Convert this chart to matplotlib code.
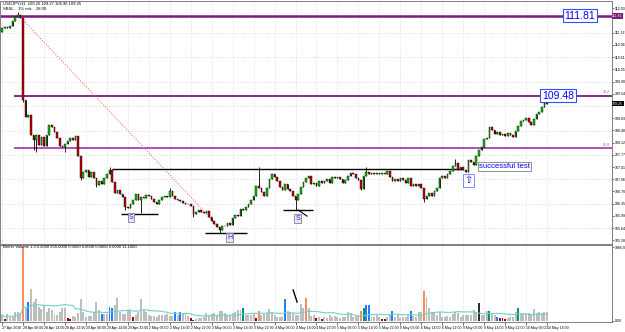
import numpy as np
import pandas as pd
import matplotlib
matplotlib.use('Agg')
import matplotlib.pyplot as plt

plt.rcParams['font.family'] = ['Liberation Sans', 'DejaVu Sans']

# USDJPY H1 closes (open = previous close)
first_open = 111.34
closes = [
    111.46, 111.48, 111.46, 111.51, 111.66, 111.78, 111.83, 111.75, 109.36, 108.87,
    108.92, 108.34, 108.20, 108.34, 108.05, 108.28, 108.02, 108.34, 108.63, 108.57,
    108.43, 108.25, 108.02, 107.99, 108.08, 108.17, 108.25, 108.20, 108.31, 107.73,
    107.09, 107.26, 107.32, 107.12, 107.26, 107.09, 106.89, 107.00, 106.91, 107.09,
    107.21, 107.32, 106.97, 106.65, 106.74, 106.62, 106.54, 106.25, 106.22, 106.33,
    106.45, 106.62, 106.45, 106.54, 106.51, 106.60, 106.57, 106.48, 106.39, 106.33,
    106.45, 106.54, 106.57, 106.54, 106.71, 106.57, 106.48, 106.45, 106.42, 106.36,
    106.33, 106.33, 106.28, 106.04, 106.10, 106.16, 106.10, 106.07, 106.13, 105.96,
    105.84, 105.75, 105.66, 105.58, 105.69, 105.69, 105.78, 105.72, 105.93, 106.01,
    105.98, 106.19, 106.16, 106.25, 106.33, 106.45, 106.57, 106.86, 106.80, 106.68,
    106.57, 106.80, 107.06, 107.21, 107.12, 107.00, 106.83, 106.74, 106.91, 106.77,
    106.71, 106.57, 106.45, 106.62, 106.83, 106.97, 107.09, 107.15, 106.91, 106.94,
    106.86, 107.00, 106.94, 107.00, 107.06, 106.94, 107.12, 107.09, 107.12, 107.06,
    106.94, 107.03, 107.15, 107.23, 107.21, 107.09, 107.03, 106.77, 107.15, 107.26,
    107.21, 107.23, 107.21, 107.23, 107.21, 107.23, 107.21, 107.29, 107.12, 107.00,
    107.06, 107.00, 107.09, 107.03, 106.94, 107.09, 106.86, 106.91, 106.86, 106.91,
    106.80, 106.48, 106.57, 106.65, 106.57, 106.71, 106.80, 107.09, 107.15, 107.09,
    107.21, 107.29, 107.44, 107.53, 107.32, 107.41, 107.32, 107.26, 107.61, 107.56,
    107.47, 107.73, 107.91, 107.99, 108.22, 108.25, 108.57, 108.49, 108.37, 108.43,
    108.34, 108.37, 108.31, 108.40, 108.34, 108.28, 108.46, 108.60, 108.75, 108.78,
    108.84, 108.72, 108.63, 108.81, 108.95, 109.01, 109.16, 109.27, 109.24,
]
wick_high = {6: 111.92, 41: 107.41, 64: 106.80, 98: 107.41, 139: 107.41, 173: 107.64}
wick_low = {8: 109.30, 12: 107.91, 13: 107.85, 24: 107.85, 30: 107.03, 36: 106.83,
            47: 106.16, 53: 106.07, 73: 105.96, 83: 105.49, 112: 106.16, 137: 106.74,
            161: 106.39}

volumes = [
    150, 50, 175, 90, 110, 235, 235, 210, 1840, 315, 475, 790, 485, 540, 360, 290, 400, 235, 335, 275,
    175, 150, 235, 335, 315, 65, 50, 135, 90, 210, 560, 235, 110, 125, 125, 235, 485, 275, 175, 175, 175, 360, 315,
    400, 565, 235, 175, 175, 275, 275, 90, 150, 235, 560, 275, 235, 150, 125, 125,
    110, 150, 150, 150, 175, 125, 125, 225, 150, 235, 175, 175, 125, 65, 25, 40, 65, 65, 110, 190, 125,
    175, 190, 150, 250, 250, 210, 150, 150, 190, 235, 275, 275, 315, 150, 150, 150,
    175, 85, 250, 150, 175, 210, 290, 235, 150, 110, 110, 110, 540, 250, 235, 190, 150, 150, 425, 315, 565, 315, 125, 150,
    65, 90, 40, 90, 65, 150, 110, 125, 90, 65, 110, 110, 235, 190, 110, 125, 125, 250, 315, 400, 400, 90, 90,
    150, 90, 40, 40, 90, 150, 260, 110, 175, 65, 90, 90, 150, 260, 125, 90, 235, 235, 750, 590, 315, 235, 235, 150,
    235, 110, 90, 125, 110, 175, 235, 210, 110, 150, 150, 150, 150, 275, 235, 460, 150, 150, 260, 260, 210, 150, 90, 75, 75,
    40, 65, 90, 90, 235, 315, 190, 175, 175, 190, 150, 290, 190, 235, 210, 235, 235,
]
vol_class = ("grggggggogbggggggggg"
             "gggggrrgggggggggggbggbb"
             "gggggggrgggggggg"
             "gggggggbgbgggrrgggggg"
             "ggggggggggggtggg"
             "gro" + "g" * 9 + "b" + "g" * 7 + "o" + "ggg"
             "rgr" + "g" * 14 + "otbbgg"
             "ggrrggb" + "g" * 6 + "bgggg" + "o" + "ggggg"
             + "g" * 15 + "kgggtggbrr"
             "rgggg" + "t" + "g" * 11)
vol_colors = {'g': '#BEBEBE', 'r': '#A00000', 'b': '#1E7FFF',
              'o': '#FF8A5C', 't': '#009080', 'k': '#303030'}

time_labels = ["27 Apr 2016", "28 Apr 06:00", "28 Apr 14:00", "28 Apr 22:00",
               "29 Apr 06:00", "29 Apr 14:00", "29 Apr 22:00", "2 May 06:00",
               "2 May 14:00", "2 May 22:00", "3 May 06:00", "3 May 14:00",
               "3 May 22:00", "4 May 06:00", "4 May 14:00", "4 May 22:00",
               "5 May 06:00", "5 May 14:00", "5 May 22:00", "6 May 06:00",
               "6 May 14:00", "6 May 22:00", "9 May 06:00", "9 May 14:00",
               "9 May 22:00", "10 May 06:00", "10 May 14:00"]

fig = plt.figure(figsize=(6.25, 3.32), dpi=100)
ax = fig.add_axes([0, 1 - 244 / 332, 612 / 625, 243 / 332])
axv = fig.add_axes([0, 1 - 322 / 332, 612 / 625, 77 / 332])

x = np.arange(len(closes))
c = np.array(closes)
o = np.r_[first_open, c[:-1]]
hi = np.maximum(o, c)
lo = np.minimum(o, c)
for k, v in wick_high.items():
    hi[k] = max(hi[k], v)
for k, v in wick_low.items():
    lo[k] = min(lo[k], v)

xmin, xmax = -0.8, 232.8
ticks_x = np.arange(0, len(closes), 8)

# grid
for t in ticks_x:
    ax.axvline(t, color='#C8C8C8', lw=0.5, ls=(0, (1, 2)), zorder=0)
    axv.axvline(t, color='#C8C8C8', lw=0.5, ls=(0, (1, 2)), zorder=0)
for p in np.arange(105.63, 111.5, 0.71):
    ax.axhline(p, color='#C8C8C8', lw=0.5, ls=(0, (1, 2)), zorder=0)

# levels
ax.axhline(111.81, color='#7A1A7A', lw=1.8, zorder=1)
ax.hlines(109.48, 4.6, xmax, color='#7A1A7A', lw=1.3, zorder=1)
ax.hlines(107.96, 4.6, xmax, color='#B040B0', lw=1.3, zorder=1)
ax.text(232, 109.52, "38.2", color='#B040B0', fontsize=2.6, ha='right', va='bottom')
ax.text(232, 108.00, "61.8", color='#B040B0', fontsize=2.6, ha='right', va='bottom')

# trendline
ax.plot([8, 83.2], [111.69, 105.63], color='#FF7070', lw=0.8, ls=(0, (1, 1.5)), zorder=1)

# neckline and shoulders/head
ax.hlines(107.35, 42, 175, color='black', lw=1, zorder=2)
ax.hlines(106.04, 45.4, 59.5, color='black', lw=1, zorder=2)
ax.hlines(105.49, 77.5, 93.5, color='black', lw=1, zorder=2)
ax.hlines(106.16, 107.3, 118.7, color='black', lw=1, zorder=2)
ax.plot([113, 116.4], [106.16, 105.98], color='black', lw=0.8, zorder=2)

# candles
ax.vlines(x, lo, hi, color='black', lw=0.6, zorder=3)
ax.bar(x, c - o, bottom=o, width=0.62,
       color=np.where(c >= o, '#00C800', '#C80000'),
       edgecolor='black', linewidth=0.3, zorder=4)

box_grey = dict(boxstyle='square,pad=0.15', fc='#E8E8F0', ec='#8080A0', lw=0.6)
for xi, yi, s in [(49.2, 105.94, "S"), (86.8, 105.37, "H"), (112.8, 105.90, "S")]:
    ax.text(xi, yi, s, color='#2020FF', fontsize=5, ha='center', va='center',
            bbox=box_grey, zorder=6)

ax.text(182.1, 107.42, "successful test", color='#0000FF', fontsize=5.6,
        ha='left', va='center', zorder=6,
        bbox=dict(boxstyle='square,pad=0.12', fc='white', ec='#808080', lw=0.6))
ax.text(177.9, 107.03, "\u21e7", color='#0000FF', fontsize=7, ha='center', va='center',
        zorder=6, family=['DejaVu Sans'],
        bbox=dict(boxstyle='square,pad=0.15', fc='white', ec='#6080FF', lw=0.6))

lbl_box = dict(boxstyle='square,pad=0.15', fc='white', ec='#3050FF', lw=0.8)
ax.text(220.6, 111.81, "111.81", color='#0000FF', fontsize=7.5, ha='center',
        va='center', bbox=lbl_box, zorder=7, clip_on=False)
ax.text(212.2, 109.48, "109.48", color='#0000FF', fontsize=7.5, ha='center',
        va='center', bbox=lbl_box, zorder=7, clip_on=False)

ax.set_xlim(xmin, xmax)
ax.set_ylim(105.17, 112.24)
ax.yaxis.tick_right()
yt = np.arange(105.28, 112.2, 0.355)
yt = yt[(np.abs(yt - 111.81) > 0.15) & (np.abs(yt - 109.25) > 0.15)]
ax.set_yticks(yt)
ax.yaxis.set_major_formatter(matplotlib.ticker.FormatStrFormatter('%.2f'))
ax.tick_params(axis='y', labelsize=2.6, length=1.2, width=0.4, pad=0.8)
ax.set_xticks(ticks_x)
ax.tick_params(axis='x', labelbottom=False, length=0)
ax.text(232.9, 111.81, "111.81", fontsize=2.6, color='white', ha='left', va='center',
        bbox=dict(boxstyle='square,pad=0.2', fc='#7A1A7A', ec='none'), clip_on=False, zorder=8)
ax.text(232.9, 109.25, "109.25", fontsize=2.6, color='white', ha='left', va='center',
        bbox=dict(boxstyle='square,pad=0.2', fc='black', ec='none'), clip_on=False, zorder=8)

# volume panel
axv.bar(x, volumes, width=0.75, color=[vol_colors[k] for k in vol_class], zorder=2)
ma = pd.Series(volumes).rolling(20, min_periods=1).mean()
axv.plot(x, ma, color='#70D0D0', lw=0.8, zorder=3)
axv.plot([111.1, 112.6], [775, 475], color='black', lw=1, zorder=4)
axv.set_xlim(xmin, xmax)
axv.set_ylim(-25, 1900)
axv.yaxis.tick_right()
axv.set_yticks([0, 1840])
axv.set_yticklabels(["0.00", "1866.0"])
axv.tick_params(axis='y', labelsize=2.6, length=1.2, width=0.4, pad=0.8)
axv.set_xticks(ticks_x)
axv.set_xticklabels(time_labels, fontsize=2.5, ha='left')
axv.tick_params(axis='x', length=2, width=0.4, pad=1)

for a in (ax, axv):
    for sp in a.spines.values():
        sp.set_color('#808080')
        sp.set_linewidth(0.7)

fig.text(3 / 625, 1 - 3.5 / 332, "USDJPY,H1  109.20 109.27 108.96 109.25", fontsize=3.0, va='center')
fig.text(3 / 625, 1 - 9 / 332, "SBSL    1% risk    28.00", fontsize=3.0, va='center')
fig.text(3 / 625, 1 - 247 / 332,
         "Better Volume 1.3 0.2000 255.0000 0.0000 0.0000 0.0000 0.0000 11.1000",
         fontsize=3.0, va='center')

fig.savefig('out.png', dpi=100, facecolor='white')
